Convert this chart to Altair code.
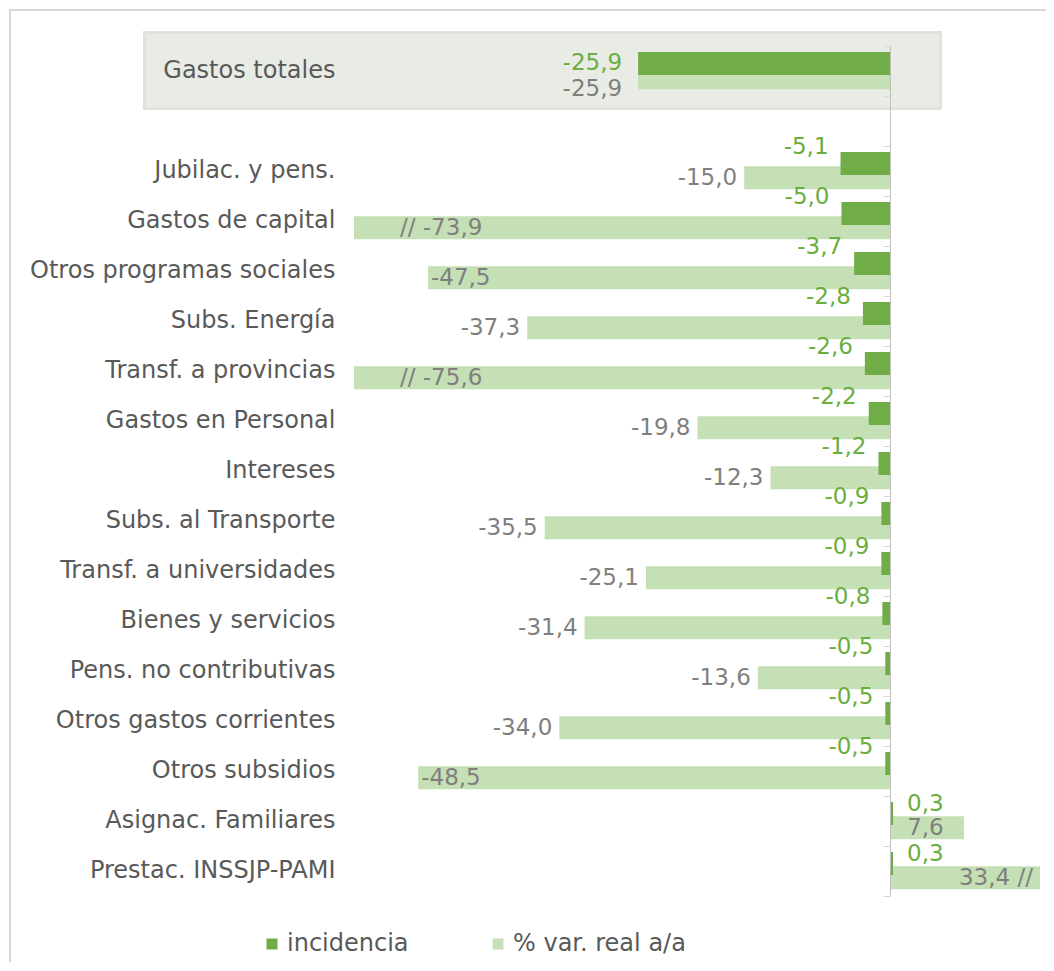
import altair as alt
import pandas as pd

# ---- data ----
categories = ["Gastos totales", "Jubilac. y pens.", "Gastos de capital",
              "Otros programas sociales", "Subs. Energía", "Transf. a provincias",
              "Gastos en Personal", "Intereses", "Subs. al Transporte",
              "Transf. a universidades", "Bienes y servicios",
              "Pens. no contributivas", "Otros gastos corrientes",
              "Otros subsidios", "Asignac. Familiares", "Prestac. INSSJP-PAMI"]
incidencia = [-25.9, -5.1, -5.0, -3.7, -2.8, -2.6, -2.2, -1.2, -0.9, -0.9,
              -0.8, -0.5, -0.5, -0.5, 0.3, 0.3]
var_real = [-25.9, -15.0, -73.9, -47.5, -37.3, -75.6, -19.8, -12.3, -35.5,
            -25.1, -31.4, -13.6, -34.0, -48.5, 7.6, 33.4]
series_names = ["incidencia", "% var. real a/a"]
series_colors = ["#70AD47", "#C5E0B4"]

X_MIN, X_MAX = -55.1, 15.4
GAP = " "
cat_order = [categories[0], GAP] + categories[1:]

FONT = "DejaVu Sans"
FS = 24
FS_NUM = 23
GRAY_TXT = "#595959"
GRAY_LBL = "#7F7F7F"
GREEN_TXT = "#6AAE3E"


def fmt(v):
    return f"{v:.1f}".replace(".", ",")


rows = []
for c, a, b in zip(categories, incidencia, var_real):
    for s, v in zip(series_names, [a, b]):
        clipped = min(max(v, X_MIN), X_MAX)
        trunc = clipped != v
        txt = fmt(v)
        if trunc:
            txt = ("// " + txt) if v < 0 else (txt + " //")
        if s == series_names[1]:
            if trunc and v < 0:
                grp = "trunc_neg"
            elif trunc and v > 0:
                grp = "right"
            elif v > 0:
                grp = "pos_in"
            elif v < -45:
                grp = "long"
            else:
                grp = "right"
        else:
            grp = "pos" if v > 0 else "neg"
        anchor = 0 if grp == "pos_in" else clipped
        rows.append(dict(cat=c, series=s, value=v, plot=clipped, label=txt,
                         grp=grp, anchor=anchor, total=(c == categories[0])))
df = pd.DataFrame(rows)

yscale = alt.Scale(domain=cat_order, paddingInner=0, paddingOuter=0)
xscale = alt.Scale(domain=[X_MIN, X_MAX], nice=False, zero=False)
color = alt.Color("series:N",
                  scale=alt.Scale(domain=series_names, range=series_colors),
                  legend=alt.Legend(orient="none", legendX=-94, legendY=886,
                                    direction="horizontal", title=None,
                                    symbolType="square", symbolSize=121,
                                    symbolStrokeWidth=0, labelFontSize=FS,
                                    labelColor=GRAY_TXT, labelFont=FONT,
                                    labelOffset=3, columnPadding=77,
                                    labelLimit=400, padding=0))

base = alt.Chart(df)
Y = alt.Y("cat:N", scale=yscale, title=None,
          axis=alt.Axis(domain=False, ticks=False, labelFontSize=FS,
                        labelFont=FONT, labelColor=GRAY_TXT, labelPadding=19,
                        labelLimit=400, zindex=2))
X = alt.X("plot:Q", scale=xscale, axis=None)

one = alt.Chart(pd.DataFrame({"k": [0]}))
border = one.mark_rect(fill="transparent", stroke="#D9D9D9", strokeWidth=2).encode(
    x=alt.value(-344), x2=alt.value(720), y=alt.value(-36), y2=alt.value(960))
shadow = one.mark_rect(fill="#DFE3DB").encode(
    x=alt.value(-211), x2=alt.value(588), y=alt.value(-15), y2=alt.value(64))
highlight = one.mark_rect(fill="#E9ECE5").encode(
    x=alt.value(-208), x2=alt.value(585), y=alt.value(-12), y2=alt.value(61))

light = base.transform_filter(alt.datum.series == series_names[1]).mark_bar(
    height=23, yOffset=6.8).encode(x=X, y=Y, color=color)
dark = base.transform_filter(alt.datum.series == series_names[0]).mark_bar(
    height=23, yOffset=-7.5).encode(x=X, y=Y, color=color)


def lbl(series, grp, align, dx, dy, colr, total=False):
    return base.transform_filter(
        (alt.datum.series == series) & (alt.datum.grp == grp)
        & (alt.datum.total == total)
    ).mark_text(align=align, baseline="middle", dx=dx, yOffset=dy,
                fontSize=FS_NUM, font=FONT, color=colr).encode(
        x=alt.X("anchor:Q", scale=xscale, axis=None), y=Y, text="label:N")


S0, S1 = series_names
labels = [
    lbl(S1, "right", "right", -7, 6.8, GRAY_LBL),
    lbl(S1, "long", "left", 3, 6.8, GRAY_LBL),
    lbl(S1, "trunc_neg", "left", 46, 6.8, GRAY_LBL),
    lbl(S1, "pos_in", "left", 17, 6.8, GRAY_LBL),
    lbl(S0, "neg", "right", -12, -24, GREEN_TXT),
    lbl(S0, "pos", "left", 14, -17, GREEN_TXT),
    lbl(S0, "neg", "right", -16, -8, GREEN_TXT, total=True),
    lbl(S1, "right", "right", -16, 18, GRAY_LBL, total=True),
]

axis_layer = alt.Chart(pd.DataFrame({"cat": cat_order})).mark_point(opacity=0).encode(
    y=alt.Y("cat:N", scale=yscale, title=None,
            axis=alt.Axis(orient="left", offset=-536, labels=False, ticks=True,
                          tickBand="extent", tickSize=7, tickColor="#D9D9D9",
                          domainColor="#BFBFBF", domainWidth=1, zindex=1)))

chart = alt.layer(border, shadow, highlight, light, dark, *labels, axis_layer).resolve_axis(
    y="independent"
).properties(
    width=686, height=850,
    autosize=alt.AutoSizeParams(type="none"),
    padding={"left": 346, "top": 38, "right": 6, "bottom": 66},
).configure_view(stroke=None)

chart.save("out.html", embed_options={"renderer": "svg", "actions": False})
